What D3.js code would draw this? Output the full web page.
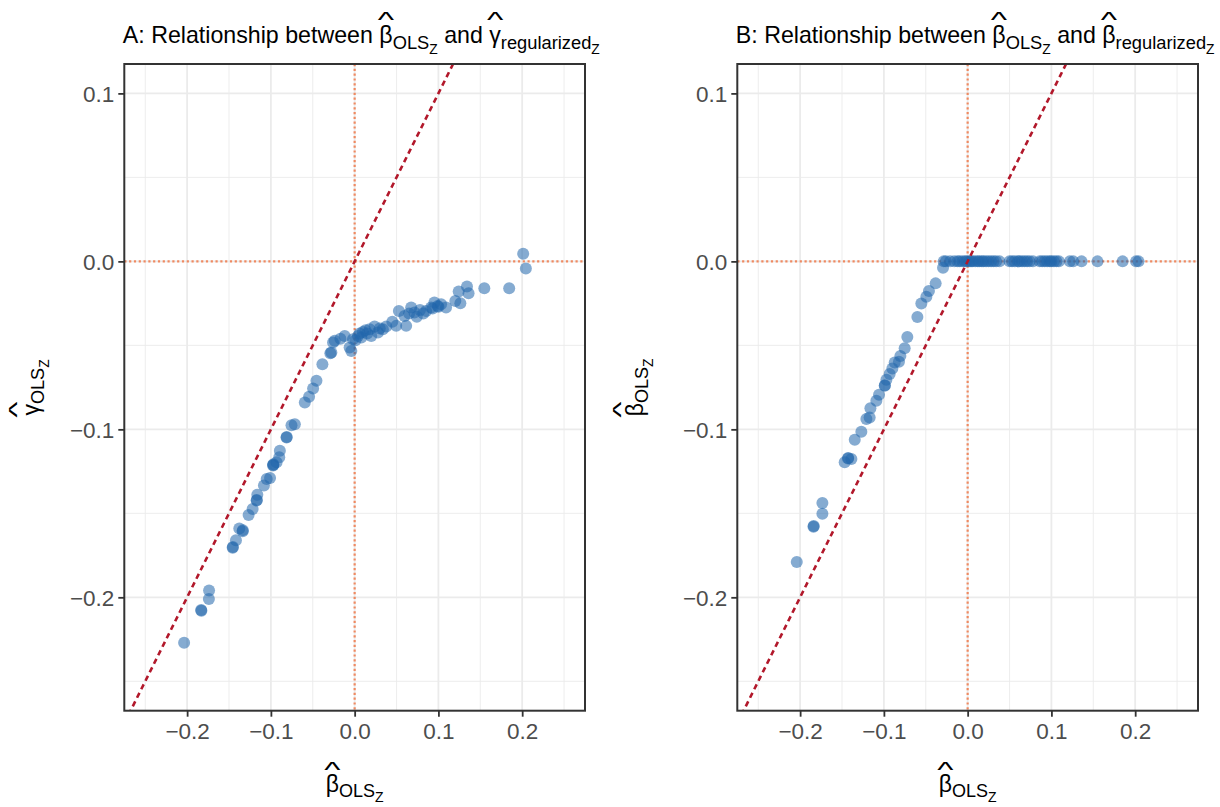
<!DOCTYPE html>
<html>
<head>
<meta charset="utf-8">
<script src="https://cdn.jsdelivr.net/npm/d3@7"></script>
<style>
  body { margin: 0; background: #ffffff; }
  svg { display: block; font-family: "Liberation Sans", Arial, Helvetica, sans-serif; }
</style>
</head>
<body>
<svg id="chart" width="1220" height="807"></svg>
<script>
// ---- axis settings -------------------------------------------------------
const xLimits = [-0.25, 0.25];
const yLimits = [-0.25, 0.1];
const xTicks = [-0.2, -0.1, 0.0, 0.1, 0.2];
const yTicks = [0.1, 0.0, -0.1, -0.2];
const xMinor = [-0.25, -0.15, -0.05, 0.05, 0.15, 0.25];
const yMinor = [0.05, -0.05, -0.15, -0.25];

// ---- panel A: OLS estimate vs regularized gamma -------------------------
const betaOLS_A = [
  -0.2036, -0.1830, -0.1832, -0.1740, -0.1738, -0.1456, -0.1454, -0.1417, -0.1377,
  -0.1337, -0.1335, -0.1266, -0.1218, -0.1170, -0.1168, -0.1162, -0.1083, -0.1050,
  -0.1010, -0.0972, -0.0974, -0.0970, -0.0932, -0.0900, -0.0893, -0.0813, -0.0811,
  -0.0754, -0.0714, -0.0595, -0.0544, -0.0496, -0.0456, -0.0385, -0.0290, -0.0278,
  -0.0258, -0.0238, -0.0170, -0.0119, -0.0060, -0.0040, -0.0020, 0.0010, 0.0040,
  0.0060, 0.0080, 0.0099, 0.0130, 0.0150, 0.0179, 0.0198, 0.0238, 0.0278, 0.0300,
  0.0337, 0.0377, 0.0450, 0.0496, 0.0528, 0.0595, 0.0615, 0.0650, 0.0675, 0.0714,
  0.0742, 0.0780, 0.0820, 0.0853, 0.0913, 0.0930, 0.0952, 0.0992, 0.1000, 0.1032,
  0.1091, 0.1202, 0.1242, 0.1262, 0.1341, 0.1360, 0.1548, 0.1845, 0.2012, 0.2044
];
const gammaReg_A = [
  -0.2270, -0.2080, -0.2075, -0.2010, -0.1960, -0.1705, -0.1700, -0.1660, -0.1590,
  -0.1606, -0.1600, -0.1510, -0.1474, -0.1424, -0.1420, -0.1390, -0.1335, -0.1295,
  -0.1290, -0.1212, -0.1215, -0.1208, -0.1196, -0.1166, -0.1127, -0.1048, -0.1045,
  -0.0975, -0.0969, -0.0840, -0.0806, -0.0757, -0.0711, -0.0612, -0.0547, -0.0543,
  -0.0483, -0.0473, -0.0460, -0.0444, -0.0513, -0.0533, -0.0463, -0.0470, -0.0444,
  -0.0430, -0.0453, -0.0420, -0.0410, -0.0430, -0.0404, -0.0444, -0.0388, -0.0424,
  -0.0400, -0.0404, -0.0388, -0.0360, -0.0384, -0.0295, -0.0325, -0.0384, -0.0310,
  -0.0275, -0.0305, -0.0329, -0.0290, -0.0310, -0.0295, -0.0275, -0.0280, -0.0245,
  -0.0265, -0.0270, -0.0255, -0.0275, -0.0236, -0.0180, -0.0250, -0.0150, -0.0190,
  -0.0160, -0.0160, 0.0046, -0.0042
];

// ---- panel B: OLS estimate vs regularized beta --------------------------
const betaOLS_B = [
  -0.2040, -0.1840, -0.1838, -0.1734, -0.1734, -0.1468, -0.1428, -0.1426, -0.1388,
  -0.1348, -0.1269, -0.1209, -0.1170, -0.1161, -0.1090, -0.1058, -0.0990, -0.0988,
  -0.0970, -0.0931, -0.0899, -0.0871, -0.0820, -0.0803, -0.0752, -0.0720, -0.0600,
  -0.0553, -0.0493, -0.0462, -0.0382, -0.0294, -0.0286, -0.0260, -0.0210, -0.0160,
  -0.0120, -0.0095, -0.0060, -0.0030, -0.0010, 0.0020, 0.0040, 0.0060, 0.0090,
  0.0120, 0.0140, 0.0170, 0.0190, 0.0220, 0.0250, 0.0280, 0.0310, 0.0340, 0.0380,
  0.0500, 0.0530, 0.0560, 0.0600, 0.0620, 0.0650, 0.0680, 0.0710, 0.0740, 0.0780,
  0.0860, 0.0890, 0.0920, 0.0950, 0.0980, 0.1000, 0.1030, 0.1060, 0.1090, 0.1220,
  0.1260, 0.1360, 0.1550, 0.1850, 0.2010, 0.2040
];
const betaReg_B = [
  -0.1790, -0.1580, -0.1575, -0.1438, -0.1503, -0.1196, -0.1173, -0.1170, -0.1176,
  -0.1062, -0.1014, -0.0939, -0.0929, -0.0875, -0.0830, -0.0794, -0.0741, -0.0738,
  -0.0705, -0.0671, -0.0638, -0.0602, -0.0598, -0.0563, -0.0517, -0.0450, -0.0331,
  -0.0251, -0.0210, -0.0176, -0.0131, -0.0038, 0.0000, 0.0000, 0.0000, 0.0000,
  0.0000, 0.0000, 0.0000, 0.0000, 0.0000, 0.0000, 0.0000, 0.0000, 0.0000,
  0.0000, 0.0000, 0.0000, 0.0000, 0.0000, 0.0000, 0.0000, 0.0000, 0.0000, 0.0000,
  0.0000, 0.0000, 0.0000, 0.0000, 0.0000, 0.0000, 0.0000, 0.0000, 0.0000, 0.0000,
  0.0000, 0.0000, 0.0000, 0.0000, 0.0000, 0.0000, 0.0000, 0.0000, 0.0000, 0.0000,
  0.0000, 0.0000, 0.0000, 0.0000, 0.0000, 0.0000
];

// ---- titles (plain text pieces; lvl 0 = normal, 1 = subscript, 2 = sub-subscript)
const titleA = [
  { t: "A: Relationship between ", lvl: 0 },
  { t: "β", lvl: 0, hat: true }, { t: "OLS", lvl: 1 }, { t: "Z", lvl: 2 },
  { t: " and ", lvl: 0 },
  { t: "γ", lvl: 0, hat: true }, { t: "regularized", lvl: 1 }, { t: "Z", lvl: 2 }
];
const titleB = [
  { t: "B: Relationship between ", lvl: 0 },
  { t: "β", lvl: 0, hat: true }, { t: "OLS", lvl: 1 }, { t: "Z", lvl: 2 },
  { t: " and ", lvl: 0 },
  { t: "β", lvl: 0, hat: true }, { t: "regularized", lvl: 1 }, { t: "Z", lvl: 2 }
];
const xLabel = [{ t: "β", lvl: 0, hat: true }, { t: "OLS", lvl: 1 }, { t: "Z", lvl: 2 }];
const yLabelA = [{ t: "γ", lvl: 0, hat: true }, { t: "OLS", lvl: 1 }, { t: "Z", lvl: 2 }];
const yLabelB = [{ t: "β", lvl: 0, hat: true }, { t: "OLS", lvl: 1 }, { t: "Z", lvl: 2 }];

// ---- style ---------------------------------------------------------------
const COL_POINT = "#2166ac";
const COL_DIAG = "#b2182b";
const COL_ZERO = "#ef8a62";
const COL_GRID = "#ebebeb";
const COL_BORDER = "#333333";
const COL_TICKTXT = "#4d4d4d";

const svg = d3.select("#chart");

// expand a limit pair by 5% on each side
function expand(lim) {
  const d = (lim[1] - lim[0]) * 0.05;
  return [lim[0] - d, lim[1] + d];
}

// Writes a plotmath-like label (hats, subscripts) as a row of text elements.
function mathLabel(parent, parts, cfg) {
  const g = parent.append("g");
  let x = 0;
  parts.forEach(p => {
    const size = cfg.sizes[p.lvl];
    const y = cfg.shifts[p.lvl];
    const t = g.append("text")
      .attr("x", x).attr("y", y)
      .attr("font-size", size)
      .attr("fill", cfg.color)
      .attr("xml:space", "preserve")
      .style("white-space", "pre")
      .text(p.t);
    const w = t.node().getComputedTextLength();
    if (p.hat) {
      const hs = size * cfg.hatScale;
      const hy = y - cfg.hatBottom * size + 0.326 * hs;
      g.append("text")
        .attr("transform", `translate(${x + w / 2},${hy}) scale(1.5,0.95)`)
        .attr("text-anchor", "middle")
        .attr("font-size", hs)
        .attr("fill", cfg.color)
        .text("^");
    }
    x += w;
  });
  return { g, width: x };
}

const titleCfg = { sizes: [23.2, 18.3, 13.8], shifts: [0, 6, 10.5], color: "#000", hatScale: 1.0, hatBottom: 1.02 };
const axisCfg = { sizes: [23, 18, 14], shifts: [0, 5, 9.5], color: "#000", hatScale: 1.0, hatBottom: 0.98 };

function drawPanel(p) {
  const x = d3.scaleLinear().domain(expand(xLimits)).range([p.left, p.right]);
  const y = d3.scaleLinear().domain(expand(yLimits)).range([p.bottom, p.top]);
  const g = svg.append("g");

  const clipId = "clip-" + p.id;
  svg.append("clipPath").attr("id", clipId)
    .append("rect")
    .attr("x", p.left).attr("y", p.top)
    .attr("width", p.right - p.left).attr("height", p.bottom - p.top);

  // grid
  const grid = g.append("g");
  grid.selectAll(".vminor").data(xMinor).join("line")
    .attr("x1", d => x(d)).attr("x2", d => x(d))
    .attr("y1", p.top).attr("y2", p.bottom)
    .attr("stroke", COL_GRID).attr("stroke-width", 0.9);
  grid.selectAll(".hminor").data(yMinor).join("line")
    .attr("y1", d => y(d)).attr("y2", d => y(d))
    .attr("x1", p.left).attr("x2", p.right)
    .attr("stroke", COL_GRID).attr("stroke-width", 0.9);
  grid.selectAll(".vmajor").data(xTicks).join("line")
    .attr("x1", d => x(d)).attr("x2", d => x(d))
    .attr("y1", p.top).attr("y2", p.bottom)
    .attr("stroke", COL_GRID).attr("stroke-width", 1.8);
  grid.selectAll(".hmajor").data(yTicks).join("line")
    .attr("y1", d => y(d)).attr("y2", d => y(d))
    .attr("x1", p.left).attr("x2", p.right)
    .attr("stroke", COL_GRID).attr("stroke-width", 1.8);

  // zero reference lines
  g.append("line")
    .attr("x1", p.left).attr("x2", p.right)
    .attr("y1", y(0)).attr("y2", y(0))
    .attr("stroke", COL_ZERO).attr("stroke-width", 2.2)
    .attr("stroke-dasharray", "2.2,2.6");
  g.append("line")
    .attr("x1", x(0)).attr("x2", x(0))
    .attr("y1", p.top).attr("y2", p.bottom)
    .attr("stroke", COL_ZERO).attr("stroke-width", 2.2)
    .attr("stroke-dasharray", "2.2,2.6");

  // points
  g.append("g").selectAll("circle")
    .data(d3.zip(p.xs, p.ys))
    .join("circle")
    .attr("cx", d => x(d[0]))
    .attr("cy", d => y(d[1]))
    .attr("r", 6)
    .attr("fill", COL_POINT)
    .attr("fill-opacity", 0.55);

  // identity line y = x
  const dom = x.domain();
  g.append("line")
    .attr("clip-path", `url(#${clipId})`)
    .attr("x1", x(dom[0])).attr("y1", y(dom[0]))
    .attr("x2", x(dom[1])).attr("y2", y(dom[1]))
    .attr("stroke", COL_DIAG).attr("stroke-width", 2.6)
    .attr("stroke-dasharray", "5.5,4");

  // axes
  const xAxis = g.append("g")
    .attr("transform", `translate(0,${p.bottom})`)
    .call(d3.axisBottom(x).tickValues(xTicks).tickSize(6).tickPadding(4)
      .tickFormat(d => d3.format(".1f")(d).replace("-", "\u2212")));
  const yAxis = g.append("g")
    .attr("transform", `translate(${p.left},0)`)
    .call(d3.axisLeft(y).tickValues(yTicks).tickSize(6).tickPadding(6)
      .tickFormat(d => d3.format(".1f")(d).replace("-", "\u2212")));
  [xAxis, yAxis].forEach(a => {
    a.select(".domain").remove();
    a.selectAll(".tick line").attr("stroke", COL_BORDER).attr("stroke-width", 1.8);
    a.selectAll(".tick text")
      .attr("fill", COL_TICKTXT)
      .attr("font-size", 22.5)
      .attr("font-family", "Liberation Sans, Arial, sans-serif");
  });
  xAxis.selectAll(".tick text").attr("dy", "0.71em").attr("y", 12);
  yAxis.selectAll(".tick text").attr("dy", "0.36em").attr("x", -10);

  // panel border
  g.append("rect")
    .attr("x", p.left).attr("y", p.top)
    .attr("width", p.right - p.left).attr("height", p.bottom - p.top)
    .attr("fill", "none").attr("stroke", COL_BORDER).attr("stroke-width", 2);

  // title
  const tl = mathLabel(svg, p.title, titleCfg);
  tl.g.attr("transform", `translate(${p.left - 1.5},${p.titleY})`);

  // x title
  const xl = mathLabel(svg, xLabel, axisCfg);
  xl.g.attr("transform", `translate(${(p.left + p.right) / 2 - xl.width / 2},${p.xTitleY})`);

  // y title
  const yl = mathLabel(svg, p.yLabel, axisCfg);
  yl.g.attr("transform",
    `translate(${p.yTitleX},${(p.top + p.bottom) / 2 + yl.width / 2}) rotate(-90)`);
}

drawPanel({
  id: "a", left: 124.3, right: 585, top: 64, bottom: 710.7,
  xs: betaOLS_A, ys: gammaReg_A, title: titleA, yLabel: yLabelA,
  titleY: 43, xTitleY: 792, yTitleX: 39
});
drawPanel({
  id: "b", left: 737.3, right: 1198, top: 64, bottom: 710.7,
  xs: betaOLS_B, ys: betaReg_B, title: titleB, yLabel: yLabelB,
  titleY: 43, xTitleY: 792, yTitleX: 643
});
</script>
</body>
</html>
